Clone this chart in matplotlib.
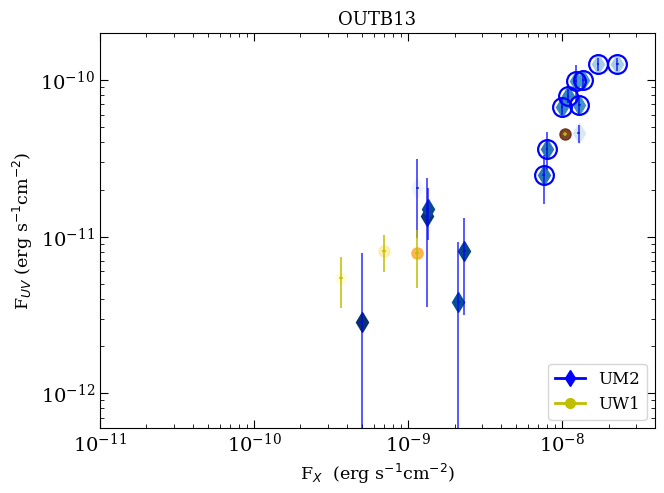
import numpy as np
import matplotlib
matplotlib.use("Agg")
import matplotlib.pyplot as plt
from matplotlib.lines import Line2D

plt.rcParams['font.family'] = 'serif'
plt.rcParams['mathtext.fontset'] = 'dejavusans'

# UM2 filter: X-ray flux vs UV flux
um2_fx = [5.0e-10, 2.12e-9, 2.32e-9, 1.32e-9, 1.34e-9, 1.15e-9, 1.28e-8,
          7.57e-9, 7.96e-9, 9.95e-9, 1.09e-8, 1.23e-8, 1.29e-8, 1.37e-8,
          1.71e-8, 2.28e-8]
um2_fuv = [2.87e-12, 3.81e-12, 8.15e-12, 1.355e-11, 1.50e-11, 2.05e-11, 4.57e-11,
           2.48e-11, 3.66e-11, 6.76e-11, 7.94e-11, 9.86e-11, 6.98e-11, 1.0e-10,
           1.26e-10, 1.26e-10]
um2_err = [5.0e-12, 5.5e-12, 5.0e-12, 1.0e-11, 5.5e-12, 1.07e-11, 5.8e-12,
           8.5e-12, 1.0e-11, 8.0e-12, 8.0e-12, 2.7e-11, 1.1e-11, 1.0e-11,
           1.2e-11, 1.2e-11]
um2_shade = [1.0, 0.88, 0.92, 0.97, 0.9, 0.05, 0.15,
             0.72, 0.72, 0.66, 0.68, 0.62, 0.62, 0.6, 0.35, 0.35]
um2_circled = [0, 0, 0, 0, 0, 0, 0, 1, 1, 1, 1, 1, 1, 1, 1, 1]

# UW1 filter
uw1_fx = [3.66e-10, 7.02e-10, 1.14e-9, 1.04e-8]
uw1_fuv = [5.47e-12, 8.11e-12, 7.9e-12, 4.52e-11]
uw1_err = [1.95e-12, 2.2e-12, 3.2e-12, 1.5e-12]
uw1_shade = [0.05, 0.2, 0.45, 1.0]

fig = plt.figure(figsize=(6.64, 4.93), dpi=100)
ax = fig.add_axes([0.1506, 0.1318, 0.8358, 0.8012])

blues = plt.get_cmap('Blues')
ylorbr = plt.get_cmap('YlOrBr')

for x, y, e, c, circ in zip(um2_fx, um2_fuv, um2_err, um2_shade, um2_circled):
    ax.plot(x, y, 'd', color=blues(c), ms=10, zorder=2)
    ax.errorbar(x, y, xerr=0.02 * x, yerr=e, fmt='none', ecolor='b',
                alpha=0.7, lw=1.3, zorder=3)
    if circ:
        ax.plot(x, y, 'o', mfc='none', mec='b', ms=13.5, mew=1.6, zorder=4)

for x, y, e, c in zip(uw1_fx, uw1_fuv, uw1_err, uw1_shade):
    ax.plot(x, y, 'o', color=ylorbr(c), ms=8, alpha=0.85, zorder=2)
    ax.errorbar(x, y, xerr=0.03 * x, yerr=e, fmt='none', ecolor='y',
                alpha=0.85, lw=1.3, zorder=3)

ax.set_xscale('log')
ax.set_yscale('log')
ax.set_xlim(1e-11, 4e-8)
ax.set_ylim(6e-13, 2e-10)

ax.tick_params(which='both', direction='in', top=True, right=True, labelsize=14)
ax.tick_params(which='major', length=6)
ax.tick_params(which='minor', length=3)

ax.set_xlabel(r'F$_X$  (erg s$^{-1}$cm$^{-2}$)', fontsize=12.6)
ax.set_ylabel(r'F$_{UV}$ (erg s$^{-1}$cm$^{-2}$)', fontsize=12.6)
ax.set_title('OUTB13', fontsize=13)

handles = [Line2D([], [], color='b', marker='d', ms=8, lw=2, label='UM2'),
           Line2D([], [], color='y', marker='o', ms=7, lw=2, label='UW1')]
ax.legend(handles=handles, loc='lower right', fontsize=12, handlelength=1.8)

fig.savefig('out.png', dpi=100)
